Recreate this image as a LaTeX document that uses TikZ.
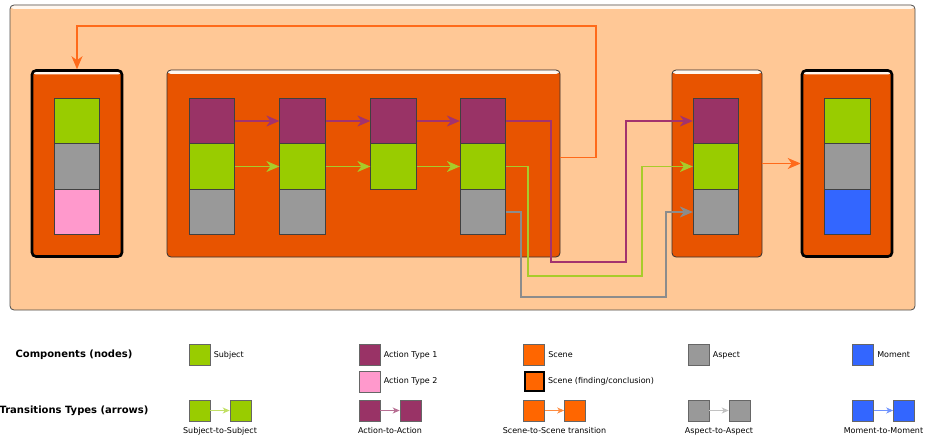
\documentclass[tikz,border=0pt]{standalone}
\usepackage{fontspec}
\setmainfont{DejaVu Sans}
\usetikzlibrary{arrows.meta}

\definecolor{peach}{HTML}{FFC896}
\definecolor{scenefill}{HTML}{E85400}
\definecolor{sceneorange}{HTML}{FF6600}
\definecolor{actpurple}{HTML}{993366}
\definecolor{subgreen}{HTML}{99CC00}
\definecolor{aspgray}{HTML}{999999}
\definecolor{actpink}{HTML}{FF99CC}
\definecolor{momblue}{HTML}{3366FF}
\definecolor{orangeline}{HTML}{FF6A1A}
\definecolor{purpleline}{HTML}{A3336E}
\definecolor{greenline}{HTML}{A8CC2A}
\definecolor{grayline}{HTML}{8C8C8C}

\tikzset{
  gloss/.style={path picture={\fill[white!85!peach] (path picture bounding box.north west) rectangle ([yshift=-4pt]path picture bounding box.north east);}},
  panel/.style={draw=black!70, fill=peach, rounded corners=4pt, line width=0.8pt, gloss, inner sep=0pt},
  scenebox/.style={draw=black!80, fill=scenefill, rounded corners=4pt, line width=0.8pt, gloss, inner sep=0pt},
  finding/.style={scenebox, draw=black, line width=2.6pt},
  cell/.style={draw=black!75, line width=0.8pt, minimum width=45.5, minimum height=45.5, inner sep=0pt},
  flow/.style={line width=1.1pt, -{Stealth[length=13pt,width=11pt,inset=4pt]}},
  heading/.style={font=\fontsize{10}{12}\selectfont\bfseries},
  legsq/.style={draw=black!60, line width=0.6pt, minimum size=21, inner sep=0pt},
  leglabel/.style={font=\fontsize{8}{9}\selectfont, anchor=west},
  legflow/.style={line width=1pt, -{Stealth[length=7pt,width=6pt,inset=2pt]}}
}

\begin{document}
\begin{tikzpicture}[x=1pt, y=-1pt]
  \useasboundingbox (0,0) rectangle (926,441);

  % Board and scenes
  \node[panel, minimum width=905, minimum height=305] (board) at (462.5,157.5) {};
  \node[finding, minimum width=90, minimum height=186] (s1) at (77,163.5) {};
  \node[scenebox, minimum width=393, minimum height=187] (s2) at (363.5,163.5) {};
  \node[scenebox, minimum width=90, minimum height=187] (s3) at (717,163.5) {};
  \node[finding, minimum width=90, minimum height=186] (s4) at (847,163.5) {};

  % First scene (finding)
  \node[cell, fill=subgreen] (f1s) at (77,121) {};
  \node[cell, fill=aspgray] (f1p) at (77,166.5) {};
  \node[cell, fill=actpink] (f1a) at (77,212) {};

  % Second scene: four moments
  \foreach \i/\x in {1/212,2/302.5,3/393.5,4/483} {
    \node[cell, fill=actpurple] (act\i) at (\x,121) {};
    \node[cell, fill=subgreen] (sub\i) at (\x,166.5) {};
  }
  \foreach \i/\x in {1/212,2/302.5,4/483} {
    \node[cell, fill=aspgray] (asp\i) at (\x,212) {};
  }
  \foreach \i/\j in {1/2,2/3,3/4} {
    \draw[flow, purpleline] (act\i.east) -- (act\j.west);
    \draw[flow, greenline] (sub\i.east) -- (sub\j.west);
  }

  % Third scene
  \node[cell, fill=actpurple] (t3a) at (716,121) {};
  \node[cell, fill=subgreen] (t3s) at (716,166.5) {};
  \node[cell, fill=aspgray] (t3p) at (716,212) {};

  % Last scene (finding)
  \node[cell, fill=subgreen] (f4s) at (847.5,121) {};
  \node[cell, fill=aspgray] (f4p) at (847.5,166.5) {};
  \node[cell, fill=momblue] (f4m) at (847.5,212) {};

  % Scene-to-scene transitions
  \draw[flow, orangeline] ([yshift=6pt]s2.east) -| (596,26) -| (s1.north);
  \draw[flow, orangeline] (s3.east) -- (s4.west);

  % Component transitions across scenes
  \draw[flow, purpleline] (act4.east) -- (551,121) |- (626,262) |- (t3a.west);
  \draw[flow, greenline] (sub4.east) -- (528,166.5) |- (642,276) |- (t3s.west);
  \draw[flow, grayline] (asp4.east) -- (521,212) |- (666,297) |- (t3p.west);

  % Legend: components
  \node[heading] (comp) at (74,355) {Components (nodes)};
  \node[legsq, fill=subgreen] (lsub) at (199.5,355) {};
  \node[leglabel] (lsubt) at (lsub.east) {Subject};
  \node[legsq, fill=actpurple] (lact) at (369.5,355) {};
  \node[leglabel] (lactt) at (lact.east) {Action Type 1};
  \node[legsq, fill=actpink] (lpink) at (369.5,381.5) {};
  \node[leglabel] (lpinkt) at (lpink.east) {Action Type 2};
  \node[legsq, fill=sceneorange] (lsc) at (534,355) {};
  \node[leglabel] (lsct) at (lsc.east) {Scene};
  \node[legsq, fill=sceneorange, draw=black, line width=2pt, minimum size=19] (lfin) at (534,381.5) {};
  \node[leglabel] (lfint) at (lfin.east) {Scene (finding/conclusion)};
  \node[legsq, fill=aspgray] (lasp) at (698.5,355) {};
  \node[leglabel] (laspt) at (lasp.east) {Aspect};
  \node[legsq, fill=momblue] (lmom) at (863,355) {};
  \node[leglabel] (lmomt) at (lmom.east) {Moment};

  % Legend: transitions
  \node[heading] (trans) at (74,410.5) {Transitions Types (arrows)};
  \foreach \n/\x/\fillc/\linec/\txt in {
      ss/199.5/subgreen/subgreen!60/Subject-to-Subject,
      aa/369.5/actpurple/actpurple!70/Action-to-Action,
      cc/534/sceneorange/sceneorange!75/Scene-to-Scene transition,
      pp/698.5/aspgray/aspgray!60/Aspect-to-Aspect,
      mm/863/momblue/momblue!70/Moment-to-Moment} {
    \node[legsq, fill=\fillc] (\n1) at (\x,410.5) {};
    \node[legsq, fill=\fillc] (\n2) at (\x+41,410.5) {};
    \draw[legflow, \linec] (\n1.east) -- (\n2.west);
    \node[font=\fontsize{8}{9}\selectfont] (\n t) at (\x+20.5,431) {\txt};
  }
\end{tikzpicture}
\end{document}
